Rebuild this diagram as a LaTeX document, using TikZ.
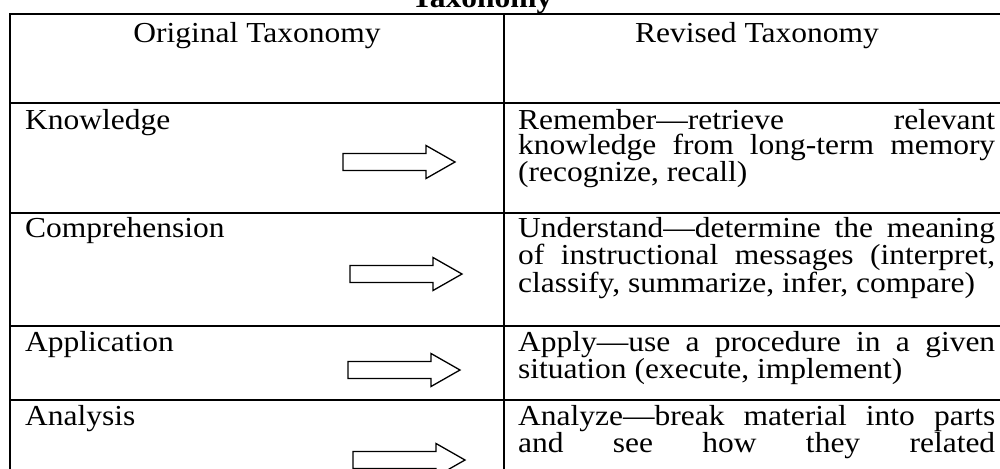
\documentclass[tikz,border=0pt]{standalone}
\usepackage{fontspec}
\setmainfont{Liberation Serif}
\newcommand{\vsq}[1]{\scalebox{1}[0.92]{#1}}
\newcommand{\sline}[1]{\makebox[477pt][s]{#1}}
\newcommand{\lline}[1]{\makebox[477pt][l]{#1}}
\newcommand{\cellpar}[1]{\vsq{\parbox[t]{477pt}{#1}}}
\begin{document}
\begin{tikzpicture}[x=1pt,y=-1pt,
  cell/.style={inner sep=0pt, anchor=base west, font=\fontsize{31.5}{27.9}\selectfont},
  headtxt/.style={inner sep=0pt, anchor=base, font=\fontsize{31.5}{27.9}\selectfont},
  rule/.style={line width=2pt, line cap=rect},
  blockarrow/.pic={\draw[line width=1.3pt, line join=miter]
     (-112,-8.5) -- (-29,-8.5) -- (-29,-16.5) -- (0,0) -- (-29,16.5) -- (-29,8.5) -- (-112,8.5) -- cycle;}
]
\useasboundingbox (0,0) rectangle (1000,468);
\clip (0,0) rectangle (1000,468);
\fill[white] (0,0) rectangle (1000,468);

% title
\node[headtxt, font=\fontsize{31.5}{27.9}\selectfont\bfseries] (title) at (482,8) {\vsq{Taxonomy}};

% table rules
\draw[rule] (10,14) -- (1010,14);
\draw[rule] (10,103) -- (1010,103);
\draw[rule] (10,213) -- (1010,213);
\draw[rule] (10,326) -- (1010,326);
\draw[rule] (10,400) -- (1010,400);
\draw[rule] (10,14) -- (10,490);
\draw[rule] (504,14) -- (504,490);
\draw[rule] (1010,14) -- (1010,490);

% header
\node[headtxt] (hOrig) at (257,43) {\vsq{Original Taxonomy}};
\node[headtxt] (hRev) at (757,43) {\vsq{Revised Taxonomy}};

% left column
\node[cell] (know) at (25,129) {\vsq{Knowledge}};
\node[cell] (comp) at (25,237) {\vsq{Comprehension}};
\node[cell] (appl) at (25,351) {\vsq{Application}};
\node[cell] (anal) at (25,425) {\vsq{Analysis}};

% right column
\node[cell] (remember) at (518,129) {\cellpar{%
  \sline{Remember—retrieve relevant}\\
  \sline{knowledge from long-term memory}\\
  \lline{(recognize, recall)}}};
\node[cell] (understand) at (518,237) {\cellpar{%
  \sline{Understand—determine the meaning}\\
  \sline{of instructional messages (interpret,}\\
  \lline{classify, summarize, infer, compare)}}};
\node[cell] (apply) at (518,351) {\cellpar{%
  \sline{Apply—use a procedure in a given}\\
  \lline{situation (execute, implement)}}};
\node[cell] (analyze) at (518,425) {\cellpar{%
  \sline{Analyze—break material into parts}\\
  \sline{and see how they related}}};

% arrows
\pic (arrK) at (455,162) {blockarrow};
\pic (arrC) at (462,274) {blockarrow};
\pic (arrAp) at (460,370) {blockarrow};
\pic (arrAn) at (465,460) {blockarrow};
\end{tikzpicture}
\end{document}
